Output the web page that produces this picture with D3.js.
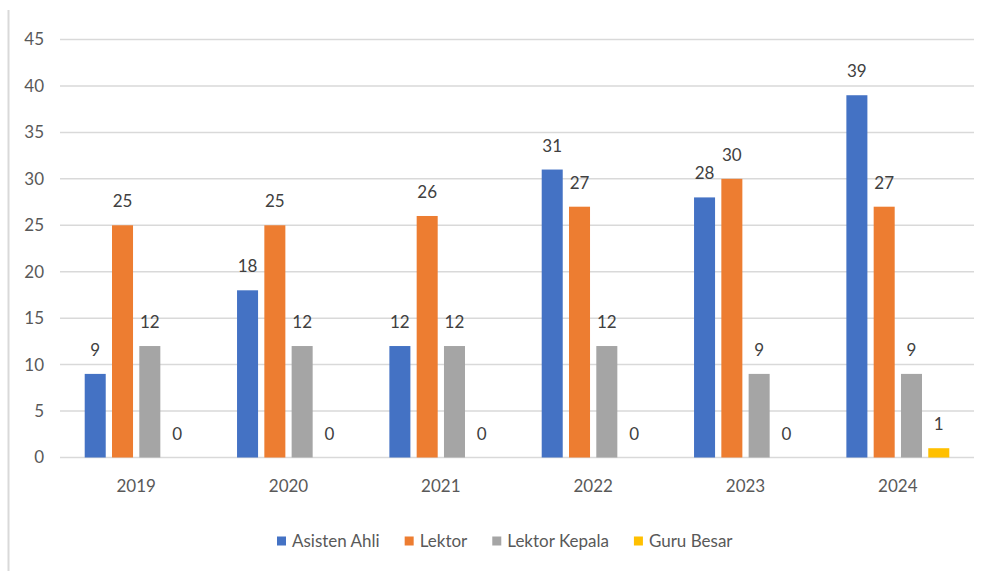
<!DOCTYPE html>
<html>
<head>
<meta charset="utf-8">
<script src="https://cdn.jsdelivr.net/npm/d3@7"></script>
<style>
  html, body { margin: 0; padding: 0; background: #fff; }
  svg { display: block; font-family: Lato, "Open Sans", sans-serif; }
</style>
</head>
<body>
<svg id="chart" width="986" height="571"></svg>
<script>
// Staff counts by academic rank, 2019–2024
const years = ["2019", "2020", "2021", "2022", "2023", "2024"];
const seriesNames = ["Asisten Ahli", "Lektor", "Lektor Kepala", "Guru Besar"];
const asistenAhli = [9, 18, 12, 31, 28, 39];
const lektor = [25, 25, 26, 27, 30, 27];
const lektorKepala = [12, 12, 12, 12, 9, 9];
const guruBesar = [0, 0, 0, 0, 0, 1];
const yTicks = [0, 5, 10, 15, 20, 25, 30, 35, 40, 45];
const colors = ["#4472C4", "#ED7D31", "#A5A5A5", "#FFC000"];

const seriesValues = [asistenAhli, lektor, lektorKepala, guruBesar];

const svg = d3.select("#chart");
const plotLeft = 60, plotRight = 974, plotTop = 39.5, plotBottom = 457.5;

const y = d3.scaleLinear().domain([0, 45]).range([plotBottom, plotTop]);
const x0 = d3.scaleBand().domain(years).range([plotLeft, plotRight]).padding(0);
const x1 = d3.scaleBand().domain(seriesNames)
  .range([x0.bandwidth() / 2 - 54.6, x0.bandwidth() / 2 + 54.6])
  .paddingInner(0.23).paddingOuter(0.115);

// Frame line on the left edge
svg.append("line")
  .attr("x1", 8.5).attr("x2", 8.5).attr("y1", 10).attr("y2", 571)
  .attr("stroke", "#d9d9d9").attr("stroke-width", 2);

// Gridlines
svg.append("g").selectAll("line").data(yTicks).join("line")
  .attr("x1", plotLeft).attr("x2", plotRight)
  .attr("y1", d => y(d)).attr("y2", d => y(d))
  .attr("stroke", "#d9d9d9").attr("stroke-width", 1.5);

// Y axis labels
const yAxis = d3.axisLeft(y).tickValues(yTicks).tickSize(0).tickPadding(0);
const yg = svg.append("g").attr("transform", "translate(44,0)").call(yAxis);
yg.select(".domain").remove();
yg.selectAll("text")
  .attr("font-family", "Lato, sans-serif")
  .attr("font-size", 17).attr("fill", "#595959");

// X axis labels
const xAxis = d3.axisBottom(x0).tickSize(0).tickPadding(0);
const xg = svg.append("g").attr("transform", "translate(0,480)").call(xAxis);
xg.select(".domain").remove();
xg.selectAll("text")
  .attr("font-family", "Lato, sans-serif")
  .attr("font-size", 17).attr("fill", "#595959");

// Bars and value labels
const groups = svg.append("g").selectAll("g").data(years).join("g")
  .attr("transform", d => `translate(${x0(d)},0)`);

const cells = (yr, i) => seriesNames.map((s, k) => ({ s, k, v: seriesValues[k][i] }));

groups.selectAll("rect").data(cells).join("rect")
  .attr("x", d => x1(d.s))
  .attr("width", x1.bandwidth())
  .attr("y", d => y(d.v))
  .attr("height", d => y(0) - y(d.v))
  .attr("fill", d => colors[d.k]);

groups.selectAll("text.val").data(cells).join("text")
  .attr("class", "val")
  .attr("x", d => x1(d.s) + x1.bandwidth() / 2)
  .attr("y", d => y(d.v) - 18)
  .attr("text-anchor", "middle")
  .attr("font-size", 17).attr("fill", "#404040")
  .text(d => d.v);

// Legend
const legend = svg.append("g").attr("transform", "translate(277,0)");
let lx = 0;
seriesNames.forEach((name, k) => {
  const item = legend.append("g").attr("transform", `translate(${lx},0)`);
  item.append("rect").attr("x", 0).attr("y", 536.5).attr("width", 9).attr("height", 9)
    .attr("fill", colors[k]);
  const t = item.append("text").attr("x", 15).attr("y", 547)
    .attr("font-size", 17).attr("fill", "#595959").text(name);
  lx += 15 + t.node().getComputedTextLength() + 25;
});
</script>
</body>
</html>
